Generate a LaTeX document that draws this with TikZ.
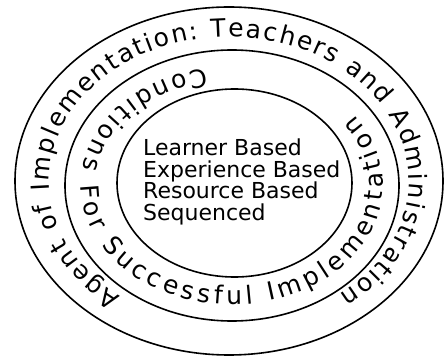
\documentclass[tikz,border=0pt]{standalone}
\usepackage{fontspec}
\setmainfont{DejaVu Sans}
\usepackage{tikz}
\usetikzlibrary{decorations.text}
\newcommand{\ringfont}{\fontsize{25}{29}\selectfont}
\newcommand{\corefont}{\fontsize{22}{21.7}\selectfont}

\begin{document}
\begin{tikzpicture}[x=1pt, y=1pt,
    ring/.style={draw=black, line width=1.6pt},
    ringtext/.style={decorate, decoration={text along path, text align={fit to path}, text={|\ringfont|#1}}}]
  \useasboundingbox (0,0) rectangle (445,362);
  \draw[ring] (229,181) ellipse[x radius=214pt, y radius=174pt];
  \draw[ring] (232,176.5) ellipse[x radius=167pt, y radius=135.5pt];
  \draw[ring] (234.5,179) ellipse[x radius=117.5pt, y radius=94pt];
  \path[ringtext={Agent of Implementation: Teachers and Administration}]
    (229,181) ++(233:180pt and 144pt) arc[start angle=233, end angle=-52, x radius=180pt, y radius=144pt];
  \path[ringtext={Conditions For Successful Implementation}]
    (232,176.5) ++(100:151pt and 119pt) arc[start angle=100, end angle=396, x radius=151pt, y radius=119pt];
  \node[anchor=west, align=left, inner sep=0pt, font=\corefont] (core) at (143,180.2) {
    Learner Based\\
    Experience Based\\
    Resource Based\\
    Sequenced
  };
\end{tikzpicture}
\end{document}
